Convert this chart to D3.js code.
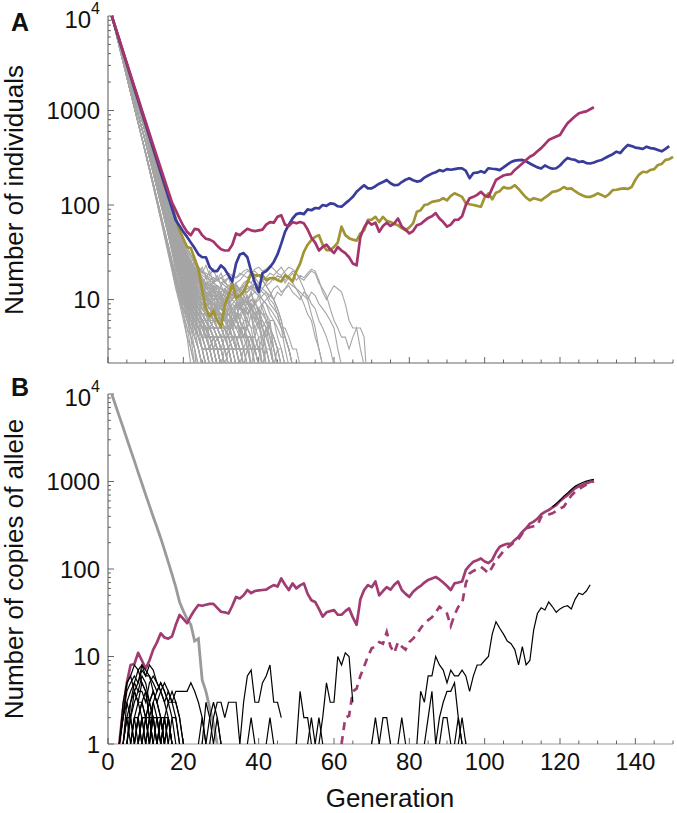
<!DOCTYPE html>
<html><head><meta charset="utf-8">
<script src="https://cdn.jsdelivr.net/npm/d3@7"></script>
<style>body{margin:0;background:#fff} text{font-family:"Liberation Sans",Arial,Helvetica,sans-serif;fill:#111}</style>
</head><body>
<svg id="chart" width="677" height="813"></svg>
<script>
// ---------- DATA ----------
const xTicks = [0, 20, 40, 60, 80, 100, 120, 140];
const yTicksA = [10, 100, 1000, 10000];
const yTicksB = [1, 10, 100, 1000, 10000];
const xLabel = "Generation";
const yLabelA = "Number of individuals";
const yLabelB = "Number of copies of allele";

// Panel A: populations that went extinct (gray). Early generations 1-9 per group, tails from gen 10.
const grayPrefixes = [
 [10000,6900,4750,3280,2260,1560,1075,740,510],
 [10000,7100,5040,3580,2540,1800,1280,910,645],
 [10000,7300,5300,3870,2820,2060,1500,1100,800],
 [10000,7460,5570,4150,3100,2310,1720,1290,960]
];
const grayTailStart = 10;
const grayFast = [
 [350,240,162,110,74,50,33,22,15,10,7,5,3,2,1],
 [355,245,168,114,78,53,36,24,16,11,8,6,5,4,3,2,1],
 [345,236,160,108,72,48,32,21,14,10,7,5,4,3,2,2,1],
 [360,250,172,118,80,55,37,25,17,12,9,7,6,5,4,3,3,2,1],
 [352,242,165,112,76,51,34,23,16,11,8,7,6,5,5,4,3,3,2,2,1],
 [348,238,162,110,74,50,34,23,16,12,9,8,7,6,6,5,4,4,3,3,2,2,1],
 [356,246,169,115,79,54,37,25,18,13,10,8,6,5,4,3,2,2,1],
 [342,233,157,105,70,46,30,20,13,9,6,4,3,2,1],
 [358,248,171,117,80,55,38,26,19,14,11,9,8,7,6,5,5,4,3,2,2,1],
 [350,241,164,111,75,51,35,24,17,13,10,8,7,6,5,4,3,3,2,1],
 [346,237,161,109,73,49,33,22,15,11,8,6,5,5,4,3,3,2,2,1],
 [354,244,167,114,78,53,36,25,18,13,10,9,8,7,7,6,5,5,4,4,3,3,2,1]
];
const grayMidFast = [
 [460,320,222,154,106,73,50,34,23,16,11,8,6,4,3,2,1],
 [465,325,227,158,109,76,53,37,26,18,13,10,8,6,5,4,3,2,1],
 [455,316,219,151,104,71,49,33,23,16,12,9,7,6,5,5,4,3,3,2,1],
 [470,330,231,161,112,78,55,38,27,19,14,11,9,8,7,6,5,5,4,3,3,2,2,1],
 [458,318,220,152,105,72,49,34,24,17,12,9,7,5,4,3,3,2,2,1],
 [462,322,224,156,108,75,52,36,25,18,13,10,8,7,6,5,5,4,4,3,3,2,2,2,1],
 [468,328,229,160,111,77,54,38,27,20,15,12,10,9,8,8,7,6,5,5,4,3,3,2,1],
 [452,313,216,149,102,70,48,33,22,15,10,7,5,4,3,2,2,1],
 [466,326,228,159,110,77,54,38,27,20,15,11,9,8,7,6,6,5,5,4,4,3,3,2,2,1],
 [457,317,220,152,105,72,50,35,25,18,13,10,8,6,5,4,3,3,2,1],
 [463,323,225,157,109,76,53,37,26,19,14,11,9,8,7,6,5,4,4,3,2,2,1],
 [459,319,221,153,106,73,51,36,25,18,14,11,10,9,8,7,7,6,6,5,5,4,4,3,3,2,2,1],
 [471,331,232,162,113,79,55,39,28,20,15,12,10,8,7,6,5,5,4,3,3,2,1],
 [454,314,218,150,103,71,49,34,24,17,12,9,8,7,6,5,4,4,3,3,2,2,1],
 [467,327,229,160,111,78,55,39,28,21,16,13,11,10,9,8,8,7,6,6,5,5,4,3,3,2,2,1],
 [461,321,223,155,107,74,51,35,24,17,12,9,7,6,5,4,4,3,2,2,1]
];
const grayMid = [
 [560,380,255,170,112,74,48,31,20,12,7,4,2,1],
 [570,395,270,182,122,82,55,36,24,16,10,6,4,2,1],
 [575,400,276,190,130,88,60,40,27,18,12,8,5,3,2,1],
 [565,390,265,180,120,80,54,37,25,17,11,7,4,3,1],
 [580,405,282,196,135,93,64,44,30,20,14,9,6,4,3,2,1],
 [585,410,288,200,139,96,66,45,31,22,15,10,7,5,3,2,2,1],
 [578,402,280,195,134,92,63,43,29,20,14,10,8,5,4,3,2,1],
 [590,418,295,206,144,100,70,49,34,24,17,12,8,6,4,3,2,2,1],
 [572,398,274,188,129,89,61,42,29,21,15,11,8,6,5,3,2,1],
 [595,422,300,212,150,106,74,52,37,26,18,13,9,7,5,4,3,2,2,1],
 [582,408,285,198,138,96,67,47,33,23,17,12,9,7,5,4,3,3,2,1],
 [600,428,306,218,155,110,78,55,39,28,20,14,10,8,6,5,4,3,2,2,1],
 [588,414,291,204,142,99,69,48,34,24,18,13,10,8,6,5,4,3,3,2,1],
 [568,393,270,185,127,87,60,41,28,19,13,9,7,6,4,3,2,2,1],
 [596,424,302,215,152,108,76,54,38,27,20,15,11,8,7,5,4,4,3,2,2,1],
 [584,410,288,202,141,98,68,48,34,25,18,13,10,8,6,5,4,3,2,1],
 [592,420,298,210,148,104,73,51,36,26,19,14,11,9,7,6,5,4,3,3,2,2,1],
 [603,432,310,222,158,113,80,57,41,30,22,16,12,10,8,6,5,4,4,3,2,2,1,1],
 [578,404,282,196,136,95,66,46,32,23,17,13,10,8,7,6,5,4,3,3,2,2,1],
 [598,426,304,216,154,110,78,56,40,29,21,16,12,10,8,7,6,5,4,3,3,2,2,1],
 [606,436,314,226,162,116,83,60,43,31,23,17,13,11,9,7,6,5,4,4,3,3,2,1],
 [590,418,296,208,146,102,72,51,37,27,20,15,12,10,8,7,6,6,5,4,3,3,2,2,1],
 [610,440,318,230,166,120,86,62,45,33,25,19,15,12,10,8,7,6,5,5,4,3,3,2,2,1],
 [594,422,300,213,151,107,76,55,40,30,22,17,14,12,10,9,8,7,6,5,5,4,3,3,2,2,1],
 [604,434,312,224,160,115,82,59,43,32,24,18,14,12,10,9,8,7,7,6,5,5,4,4,3,2,2,1],
 [590,415,292,205,143,100,70,48,33,23,16,12,9,8,6,5,6,4,3,4,3,2,2,1],
 [605,436,313,225,160,114,80,56,39,28,20,15,11,9,8,9,7,6,7,5,4,5,3,2,1],
 [580,405,282,196,136,94,65,45,31,21,15,11,8,7,5,6,4,5,4,3,3,2,3,2,1],
 [612,444,322,233,168,121,87,62,44,32,24,18,14,12,10,11,9,8,9,7,6,5,6,4,3,2,1],
 [595,422,300,212,150,105,74,52,36,26,19,14,11,9,7,6,7,5,6,5,4,4,3,3,2,2,1],
 [586,412,290,203,142,99,69,48,34,24,17,12,9,7,6,4,5,3,4,3,2,2,1],
 [600,428,305,217,154,109,77,54,38,27,20,16,13,10,9,8,9,10,8,7,6,6,5,4,4,3,2,1],
 [575,400,277,191,131,90,62,43,30,21,15,11,8,6,5,4,3,3,4,3,2,2,1],
 [608,438,316,228,164,118,85,61,44,32,24,19,15,13,11,9,8,7,6,6,5,5,4,4,3,3,2,2,1],
 [592,418,296,209,147,104,73,51,36,26,19,15,12,10,8,7,6,5,5,4,3,4,3,2,1],
 [616,448,326,238,173,126,91,66,48,35,26,20,16,13,11,10,9,8,7,7,6,5,5,4,3,3,2,1],
 [583,408,286,200,139,97,67,47,32,23,17,13,10,8,7,6,5,4,3,2,2,1],
 [598,426,303,215,152,108,76,53,37,27,20,14,12,9,8,6,5,5,4,4,3,3,2,2,2,1],
 [610,440,318,230,166,119,86,62,45,33,25,19,15,12,10,8,7,6,5,5,4,3,3,2,2,1],
 [588,414,291,205,143,100,70,49,34,24,18,14,11,10,9,8,7,6,5,5,4,4,4,3,3,2,2,1,1],
 [602,432,310,221,157,111,79,56,40,29,21,16,12,10,8,7,7,6,5,4,3,3,2,1],
 [578,403,280,194,134,92,63,44,30,21,15,10,8,6,5,4,4,3,3,2,2,1],
 [614,446,324,236,171,124,90,65,47,35,27,21,17,14,12,11,10,9,8,7,7,6,5,5,4,3,3,2,2,1],
 [596,424,302,214,151,107,75,53,37,27,20,15,12,10,8,7,6,6,5,4,4,3,3,2,1],
 [585,411,288,202,141,98,68,47,33,23,17,13,10,8,7,6,5,5,4,3,3,2,1],
 [606,437,314,226,162,116,83,60,43,31,23,18,14,12,10,9,8,8,7,6,6,5,5,4,4,3,3,2,2,1,1],
 [590,416,293,207,145,102,71,50,35,25,18,13,10,8,6,5,4,4,3,3,2,2,2,1],
 [620,452,330,242,177,129,94,69,50,37,28,22,18,15,13,12,11,10,9,9,8,7,7,6,5,5,4,4,3,3,2,2,1],
 [594,420,298,211,148,104,73,51,36,26,19,14,11,9,7,6,5,4,4,3,2,3,2,1],
 [572,397,274,188,128,88,60,41,28,19,13,9,7,5,4,3,3,2,2,1],
 [604,434,311,222,158,113,80,57,41,30,22,17,13,11,9,8,7,6,6,5,5,4,4,3,2,2,1],
 [581,406,284,198,137,95,66,46,32,22,16,12,9,7,6,5,5,4,3,3,2,1],
 [611,442,320,232,167,121,87,63,46,34,26,20,16,13,11,10,9,8,8,7,6,6,5,4,4,3,2,2,1],
 [598,425,302,214,151,106,75,53,38,28,21,16,13,11,10,9,9,8,7,7,6,5,5,4,4,3,3,3,2,2,1],
 [587,413,290,203,142,99,69,48,33,24,17,13,10,8,7,6,5,4,4,3,3,2,2,2,1]
];
const grayLate = [
 [600,428,306,218,155,110,78,56,40,30,23,18,15,12,10,9,8,7,6,6,5,5,5,4,4,4,3,3,3,2,2,2,1],
 [590,418,296,209,147,104,73,52,37,27,20,15,12,10,8,7,6,6,5,5,4,4,3,4,3,3,2,3,2,2,1],
 [610,440,318,230,166,120,86,62,45,34,26,20,16,13,11,10,9,8,8,7,7,6,6,5,6,5,5,4,4,3,3,3,2,2,1],
 [595,422,300,213,150,106,75,53,38,28,21,16,13,11,9,8,7,7,6,5,5,4,4,3,3,3,2,2,2,1,1],
 [605,435,312,223,159,113,80,57,41,30,22,17,14,12,10,9,8,7,6,6,6,5,5,5,4,4,4,3,3,3,2,2,1,1],
 [585,410,288,202,141,98,68,47,33,24,18,14,11,9,8,7,6,6,5,5,4,4,4,3,3,2,3,2,2,1],
 [615,446,324,236,171,124,90,65,47,35,27,21,17,14,12,11,10,9,9,8,8,7,7,6,6,5,5,5,4,4,3,3,2,2,1,1],
 [598,426,303,215,152,108,76,54,39,29,22,17,13,11,10,9,9,8,8,7,6,6,5,4,4,3,3,2,2,1],
 [592,420,298,210,148,104,73,52,37,27,20,15,12,9,7,6,5,5,4,4,3,3,3,2,2,2,1],
 [608,438,316,228,164,118,85,61,44,32,24,19,15,13,12,11,10,10,9,8,8,7,7,6,6,5,5,4,4,3,3,2,2,1],
 [580,405,282,196,136,94,65,45,31,22,16,12,10,8,7,6,6,5,5,4,4,3,3,3,2,2,2,1],
 [602,432,310,221,157,111,79,56,40,30,23,18,15,13,11,10,9,9,8,8,7,7,6,6,5,5,4,4,3,3,3,2,2,2,1]
];
const graySlow = [
 [715,520,378,275,198,142,100,70,50,37,27,21,17,14,12,11,10,9,8,8,7,6,5,5,4,4,3,3,2,2,1],
 [705,510,370,268,193,138,98,69,49,36,27,21,16,14,12,11,10,9,9,8,8,7,7,6,6,5,5,4,4,3,3,2,2,1],
 [720,525,382,278,202,146,104,74,53,39,29,23,19,16,14,13,12,11,11,10,10,9,9,10,9,8,8,7,8,7,6,6,5,5,4,3,3,2,1],
 [712,516,375,272,197,142,101,72,52,38,29,23,19,17,15,14,14,13,13,14,13,12,13,14,13,12,11,12,13,12,11,10,9,8,7,6,5,5,4,3,3,2,1],
 [722,528,385,280,204,148,106,76,56,43,34,28,24,21,19,18,17,16,17,16,15,16,17,18,17,19,18,20,19,21,22,20,21,23,21,19,18,20,22,21,19,16,13,10,7,5,3,2,1],
 [716,520,378,274,198,143,102,73,53,40,31,25,21,18,16,15,14,13,13,12,12,13,12,11,12,13,12,14,13,15,14,13,15,17,16,18,17,16,18,20,19,17,16,18,20,19,15,13,11,8,6,5,4,4,3,4,5,3,2,1],
 [725,530,388,283,206,150,108,78,58,45,35,28,23,19,16,14,12,11,10,10,9,10,11,10,12,11,13,12,14,13,15,16,14,15,17,16,18,15,17,19,16,18,17,19,21,20,16,12,10,12,14,13,12,9,6,5,5,5,4,1],
 [708,512,372,268,192,137,97,68,48,34,24,18,14,11,9,8,7,7,6,6,7,6,7,8,7,8,9,8,10,9,10,11,12,11,13,14,12,13,15,14,13,12,11,10,12,11,9,8,7,6,5,3,2,1],
 [710,515,374,271,196,140,100,70,50,36,26,21,17,15,13,12,11,11,10,11,10,12,11,13,14,13,15,16,15,17,18,16,17,19,18,20,22,19,17,15,13,11,9,7,6,4,3,2,1],
 [704,508,368,265,190,135,95,66,46,33,24,19,15,13,11,10,9,8,8,7,7,6,6,7,6,7,8,7,8,9,8,9,10,11,10,12,11,13,14,12,11,10,12,11,9,8,6,5,4,3,2,1],
 [710,520,380,278,204,150,110,82,62,50,42,36,30,26,22,20,18,16,15,14,13,12,12,11,11,10,10,9,9,8,8,7,7,6,6,5,4,4,3,2,1],
 [700,505,365,262,188,134,96,70,52,40,32,27,23,20,17,15,13,12,11,10,9,9,8,8,7,7,6,6,5,5,4,4,3,3,2,1],
 [718,526,386,283,208,153,112,83,62,48,38,31,26,22,19,17,15,14,14,13,12,13,14,15,14,13,14,16,15,13,12,10,9,7,6,4,3,2,1],
 [706,512,372,270,196,142,103,76,57,44,35,28,23,19,16,13,11,10,9,8,8,7,8,9,8,9,10,9,8,7,8,6,5,4,3,2,1],
 [712,518,378,275,200,146,107,79,59,46,37,30,25,21,18,16,15,14,15,16,17,15,14,13,15,16,18,17,19,20,18,16,14,12,10,8,6,4,3,2,1],
 [702,506,366,264,190,136,97,70,51,38,29,22,18,15,12,10,9,8,7,6,6,5,5,6,5,4,4,5,4,3,3,2,2,1],
 [714,522,382,280,205,150,110,81,60,46,36,29,24,20,17,15,13,12,11,11,10,10,9,10,11,12,11,10,11,12,13,12,11,9,8,7,5,4,3,2,1],
 [708,514,373,271,197,143,104,76,56,42,32,25,20,17,14,12,11,9,8,8,7,7,6,6,7,6,5,5,4,4,3,3,2,2,1],
 [720,528,388,285,210,155,114,85,64,50,40,33,28,24,21,19,18,17,16,16,17,18,19,18,17,18,20,21,19,17,15,16,14,12,10,8,6,4,3,2,1],
 [704,508,368,266,192,138,99,72,53,40,31,25,21,18,16,14,12,11,10,9,8,8,7,6,6,5,4,4,3,3,2,1],
 [716,524,384,281,206,151,111,82,61,47,37,30,25,21,18,16,14,13,12,12,11,11,12,13,12,11,10,9,10,9,8,7,6,5,4,3,2,1],
 [710,516,376,273,199,145,106,78,58,44,34,27,22,18,15,13,12,11,10,10,9,8,8,9,10,11,12,13,14,12,11,13,12,10,9,7,5,3,2,1],
 [700,504,364,262,188,134,95,68,49,37,28,22,18,15,13,11,10,9,8,7,7,6,6,5,5,6,5,4,4,3,3,2,2,1],
 [722,530,390,288,212,157,116,86,65,51,41,34,29,25,22,20,19,18,17,16,15,14,13,12,12,11,10,9,8,7,6,5,4,3,2,1],
 [706,510,370,268,194,140,101,74,55,42,33,26,21,18,15,13,12,11,10,10,11,10,9,8,9,8,7,8,7,6,5,5,4,3,2,1]
];
const grayJagged = [
 [705,512,372,270,196,142,103,75,55,41,31,24,19,15,12,14,11,9,12,10,8,11,9,7,9,6,8,5,7,4,6,3,5,4,2,3,2,1],
 [712,518,378,275,200,146,107,78,57,43,33,26,21,17,20,16,13,15,12,14,11,9,12,10,13,9,7,10,8,6,8,5,4,6,3,2,1],
 [700,505,366,264,190,137,98,71,52,39,29,22,17,13,10,12,8,10,7,9,6,8,5,7,9,6,4,6,5,3,4,2,3,2,1],
 [718,524,383,280,205,150,110,81,60,46,36,28,22,25,19,22,17,20,15,18,14,16,13,11,14,12,9,11,8,10,7,5,6,4,3,2,1],
 [708,514,374,272,198,144,105,77,56,42,32,25,19,15,18,14,11,13,10,8,10,7,9,6,8,10,7,5,7,4,3,4,2,1],
 [714,520,380,277,202,147,108,79,58,44,34,27,21,24,18,15,17,13,16,12,10,13,11,14,10,8,11,9,12,8,6,9,7,5,4,3,2,1],
 [702,508,368,266,192,139,100,73,53,40,30,23,18,14,11,9,11,8,6,8,5,7,4,6,3,5,3,4,2,3,2,1],
 [720,528,387,284,208,152,112,83,62,48,38,31,25,28,22,19,23,18,21,16,19,15,17,13,15,12,14,10,12,9,11,8,6,5,3,2,1],
 [706,510,370,268,195,141,102,74,54,41,31,24,18,21,16,13,15,11,14,10,12,9,11,8,6,9,7,10,7,5,6,4,3,2,1],
 [710,516,376,274,199,145,106,77,56,42,32,25,20,16,13,15,12,10,13,9,11,8,10,7,9,11,8,6,9,7,5,4,5,3,2,1],
 [716,522,381,278,203,148,108,80,59,45,35,28,22,18,21,17,14,16,13,11,14,12,9,12,10,8,10,7,9,6,8,5,3,2,1],
 [704,509,369,267,193,140,101,74,54,40,30,23,18,14,16,12,10,12,9,7,9,6,8,5,7,4,6,3,4,2,1]
];
const grayGroups = [[grayFast,0], [grayMidFast,1], [grayMid,2], [grayLate,2], [graySlow,3], [grayJagged,3]];

// Panel A rescued populations, one value per generation from gen 1
const blueA = [10000,7460,5570,4150,3100,2310,1720,1290,960,716,534,398,297,222,165,123,92,69,
 60,52,46,40,35,30,28,28,22,20,20,23,21,18,15.5,24,30,31,28,20,15,12,19,20,22,25,30,39,52,62,72,80,
 82,80,90,88,93,92,100,98,104,103,97,96,104,112,122,138,150,162,150,150,158,168,175,184,170,162,163,175,185,192,
 183,177,180,195,205,215,222,234,228,240,236,240,244,245,230,192,218,220,228,220,245,242,240,234,250,268,285,295,299,
 300,290,275,262,250,243,262,250,242,245,262,290,315,305,300,285,290,278,275,282,292,299,315,330,345,367,355,395,432,
 420,405,400,392,414,400,395,382,370,392,420];
const magentaA = [10000,7500,5620,4220,3170,2380,1790,1350,1010,760,572,430,325,245,185,140,106,88,
 72,60,52,48,56,55,48,44,43,41,37,34,33,33,38,50,48,52,56,54,53,54,55,62,66,65,75,78,62,60,66,64,
 66,64,55,45,40,33,36,38,34,31,36,33,31,28,24,23,46,58,67,62,65,52,60,65,60,64,72,59,55,50,
 53,61,63,68,73,76,82,72,66,59,62,69.5,70,76,100,118,122,128,138,126,122,150,184,195,205,210,212,235,254,
 275,300,324,340,370,400,440,487,510,530,551,640,733,800,870,934,960,980,1030,1081];
const goldA = [10000,7450,5550,4130,3080,2290,1710,1270,950,705,525,392,292,218,162,128,100,72,
 54,44,36,35,27,21,12.6,8,6.6,7.6,6,5.1,8.8,11,14.8,10.4,11,12,15,19,18,18,18,16,16.8,17,16,15.5,18,17,15.5,20,
 24,32,38,42.6,46,48,38,33.4,33.4,36,40,59,48,44.6,43,42,50,54,69.5,70,75,66,75,68,66,63,61,57,54,58,
 64,85,88,100,102,108,110,112,118,112,125,133,128,122,104,102,100,98,96,120,133,115,135,140,155,150,152,162,148,
 133,120,112,118,115,112,120,128,138,140,145,155,148,150,140,132,126,122,122,126,133,128,122,130,144,145,148,150,148,
 155,185,210,225,222,235,240,265,272,300,305,324];

// Panel B
const grayB = [10000,7450,5550,4150,3080,2300,1720,1270,950,705,530,395,300,225,165,120,87,62,42,33,27,23,15,16,5.4,4,2.6,1.7,1];
const magentaBStart = 3;
const magentaB = [1,2.5,5,8,8.2,11,9,7.3,9,12,14.5,18.4,16.5,16,17,23,29.8,27,24,29,34,38.8,38,39,40,40,36,32.5,32,31,
 38,48,46,50,57.5,53,56,57,57.5,58,62,65.5,63,78,66,57.5,68.5,60,65,68.5,52,44,42,35,28.5,32,33,34,30,30,
 33,35.5,28,23,45,57.5,65.5,62,72,50,56,62,58,66,72,57.5,52,48,55,60,64,70,75,78,81,76,70,64,57.5,68.5,
 70,72,97.5,110,121,126,132,122,117,127,155,180,188,194,194,215,234,265,292,330,348,375,420,450,472,505,538,600,650,700,
 770,836,880,920,953,990,1022];
const dashedBStart = 62;
const dashedB = [1,2,2.1,4,4.3,6,7.7,10,12.4,13,14.6,14,19,13,11,14.6,13,12,14.6,16,18,21,24,26,28,32,37,34,31,22.4,
 30,37,40,68.5,89,95,100,106,98,89,105,126,141,160,175,188,205,220,255,292,300,308,315,396,410,420,433,460,490,515,
 600,690,760,820,870,920,970,1000];
const blackB = [
 {s:3, v:[1,3,5,6,8,7,5,4,2,1]},
 {s:3, v:[1,2,5,6,4,5,8,7,6,4,3,2,1]},
 {s:4, v:[1,3,4,5,7,8,6,8,7,5,4,3,2,1]},
 {s:3, v:[1,2,3,2,4,3,2,1]},
 {s:4, v:[1,2,1,2,2,3,2,1]},
 {s:4, v:[1,2,2,1]},
 {s:5, v:[1,2,1,2,1]},
 {s:5, v:[1,3,4,3,5,4,2,2,1]},
 {s:6, v:[1,2,3,3,2,2,1]},
 {s:6, v:[1,2,1,2,2,1]},
 {s:7, v:[1,2,3,4,3,2,2,1]},
 {s:7, v:[1,2,1]},
 {s:8, v:[1,2,2,3,2,1,2,1]},
 {s:8, v:[1,2,1,2,1]},
 {s:9, v:[1,2,1,2,2,1]},
 {s:9, v:[1,2,3,4,3,4,5,4,3,3,2,1]},
 {s:10, v:[1,2,3,2,1,2,1]},
 {s:11, v:[1,2,1,2,1]},
 {s:11, v:[1,3,4,5,4,3,4,3,2,1]},
 {s:12, v:[1,2,2,1,2,1]},
 {s:3, v:[1,2,4,5,6,5,7,6,6,5,4,5,4,3,2,2,1]},
 {s:4, v:[1,2,3,5,4,6,5,3,4,3,2,2,1,2,1]},
 {s:5, v:[1,2,3,4,4,3,5,6,5,4,3,4,3,2,1]},
 {s:13, v:[1,2,1,2,1]},
 {s:14, v:[1,2,2,1]},
 {s:14, v:[1,2,3,3,4,4,4,4,5,4,3,2,1]},
 {s:24, v:[1,2,1,2,3,2,1]},
 {s:25, v:[1,3,2,1,2,1]},
 {s:27, v:[1,2,3,3,2,3,3,3,1,3,6,7,3,3,5,6,8,3,3,2]},
 {s:37, v:[1,2,1]},
 {s:42, v:[1,2,1]},
 {s:50, v:[1,4,2,2,1]},
 {s:53, v:[1,2,1,2,1]},
 {s:56, v:[1,2,5,3,3,10,8,11,10,3]},
 {s:70, v:[1,2,1]},
 {s:72, v:[1,2,2,1]},
 {s:77, v:[1,2,1]},
 {s:82, v:[1,4,3,6,6,10,8,7,5,7,6,6,7,6,4,6,8,8,9,10,18,25,21,18,15,14,12,8,13,8,9,20,31,36,34,42,37,32,35,37,38,35,45,53,51,56,66]},
 {s:84, v:[1,2,4,1]},
 {s:87, v:[1,2,3,4,4,5,2,1]},
 {s:88, v:[1,2,2,1]},
 {s:92, v:[1,2,1]},
 {s:93, v:[1,2,1]},
 {s:118, v:[515,560,610,680,740,810,880,930,975,1010,1040,1060]}
];

// ---------- DRAW ----------
const svg = d3.select("#chart");
const x = d3.scaleLinear().domain([0, 150]).range([108, 673]);
const yA = d3.scaleLog().domain([2.13, 10000]).range([363, 16]);
const yB = d3.scaleLog().domain([1, 10000]).range([744, 394]);

const defs = svg.append("defs");
defs.append("clipPath").attr("id","clipA").append("rect").attr("x",108).attr("y",0).attr("width",566).attr("height",363);
defs.append("clipPath").attr("id","clipB").append("rect").attr("x",108).attr("y",380).attr("width",566).attr("height",365);

const toPts = (start, vals) => vals.map((v,i)=>[start+i, v]);
const lineA = d3.line().x(d=>x(d[0])).y(d=>yA(d[1]));
const lineB = d3.line().x(d=>x(d[0])).y(d=>yB(d[1]));

function drawAxes(y, yBottom, yTop, ticks, labelled, xAxisColor) {
  const g = svg.append("g");
  g.append("line").attr("x1",108).attr("x2",108).attr("y1",yBottom).attr("y2",yTop).attr("stroke","#555").attr("stroke-width",1);
  g.append("line").attr("x1",108).attr("x2",673).attr("y1",yBottom).attr("y2",yBottom).attr("stroke",xAxisColor).attr("stroke-width",1.2);
  const [d0, d1] = y.domain();
  for (let e = 0; e <= 4; e++) {
    for (let k = 1; k <= 9; k++) {
      const v = k * Math.pow(10, e);
      if (v < d0 || v > d1) continue;
      const len = k === 1 ? 6 : 3;
      g.append("line").attr("x1",108).attr("x2",108+len).attr("y1",y(v)).attr("y2",y(v)).attr("stroke","#555").attr("stroke-width",0.9);
    }
  }
  for (let t = 0; t <= 150; t += 5) {
    const len = t % 20 === 0 ? 6 : 3.5;
    g.append("line").attr("x1",x(t)).attr("x2",x(t)).attr("y1",yBottom).attr("y2",yBottom-len).attr("stroke","#555").attr("stroke-width",0.9);
  }
  ticks.forEach(v => {
    const t = g.append("text").attr("x",100).attr("y",y(v)).attr("text-anchor","end").attr("font-size",24);
    if (v === 10000) {
      t.attr("dy", "0.5em");
      t.append("tspan").text("10");
      t.append("tspan").attr("font-size",16).attr("dy","-0.85em").text("4");
    } else {
      t.attr("dy","0.36em").text(String(v));
    }
  });
  if (labelled) {
    xTicks.forEach(v => {
      g.append("text").attr("x",x(v)).attr("y",770).attr("text-anchor","middle").attr("font-size",24).text(String(v));
    });
  }
}

drawAxes(yA, 363, 16, yTicksA, false, "#666");
drawAxes(yB, 744, 394, yTicksB, true, "#9a9a9a");

// Panel A lines
const gA = svg.append("g").attr("clip-path","url(#clipA)");
grayGroups.forEach(([group, pi]) => {
  group.forEach(tail => {
    const pts = toPts(1, grayPrefixes[pi]).concat(toPts(grayTailStart, tail));
    gA.append("path").attr("d", lineA(pts)).attr("fill","none").attr("stroke","#a5a5a5").attr("stroke-width",1.1);
  });
});
const colA = [[goldA,"#a09434"],[blueA,"#3a3c9c"],[magentaA,"#a5336c"]];
colA.forEach(([vals,c]) => {
  gA.append("path").attr("d", lineA(toPts(1, vals))).attr("fill","none").attr("stroke",c).attr("stroke-width",2.7).attr("stroke-linejoin","round");
});

// Panel B lines
const gB = svg.append("g").attr("clip-path","url(#clipB)");
gB.append("path").attr("d", lineB(toPts(1, grayB))).attr("fill","none").attr("stroke","#9a9a9a").attr("stroke-width",2.8);
gB.append("path").attr("d", lineB(toPts(magentaBStart, magentaB))).attr("fill","none").attr("stroke","#a03c72").attr("stroke-width",2.7).attr("stroke-linejoin","round");
gB.append("path").attr("d", lineB(toPts(dashedBStart, dashedB))).attr("fill","none").attr("stroke","#a03c72").attr("stroke-width",2.7).attr("stroke-dasharray","8,6");
blackB.forEach(b => {
  gB.append("path").attr("d", lineB(toPts(b.s, b.v))).attr("fill","none").attr("stroke","#000").attr("stroke-width",1.2);
});

// Labels
svg.append("text").attr("x",11).attr("y",31).attr("font-size",25).attr("font-weight","bold").text("A");
svg.append("text").attr("x",11).attr("y",396).attr("font-size",25).attr("font-weight","bold").text("B");
svg.append("text").attr("transform","translate(23,190) rotate(-90)").attr("text-anchor","middle").attr("font-size",26).text(yLabelA);
svg.append("text").attr("transform","translate(23,569) rotate(-90)").attr("text-anchor","middle").attr("font-size",26).text(yLabelB);
svg.append("text").attr("x",390).attr("y",807).attr("text-anchor","middle").attr("font-size",26).text(xLabel);
</script>
</body></html>
